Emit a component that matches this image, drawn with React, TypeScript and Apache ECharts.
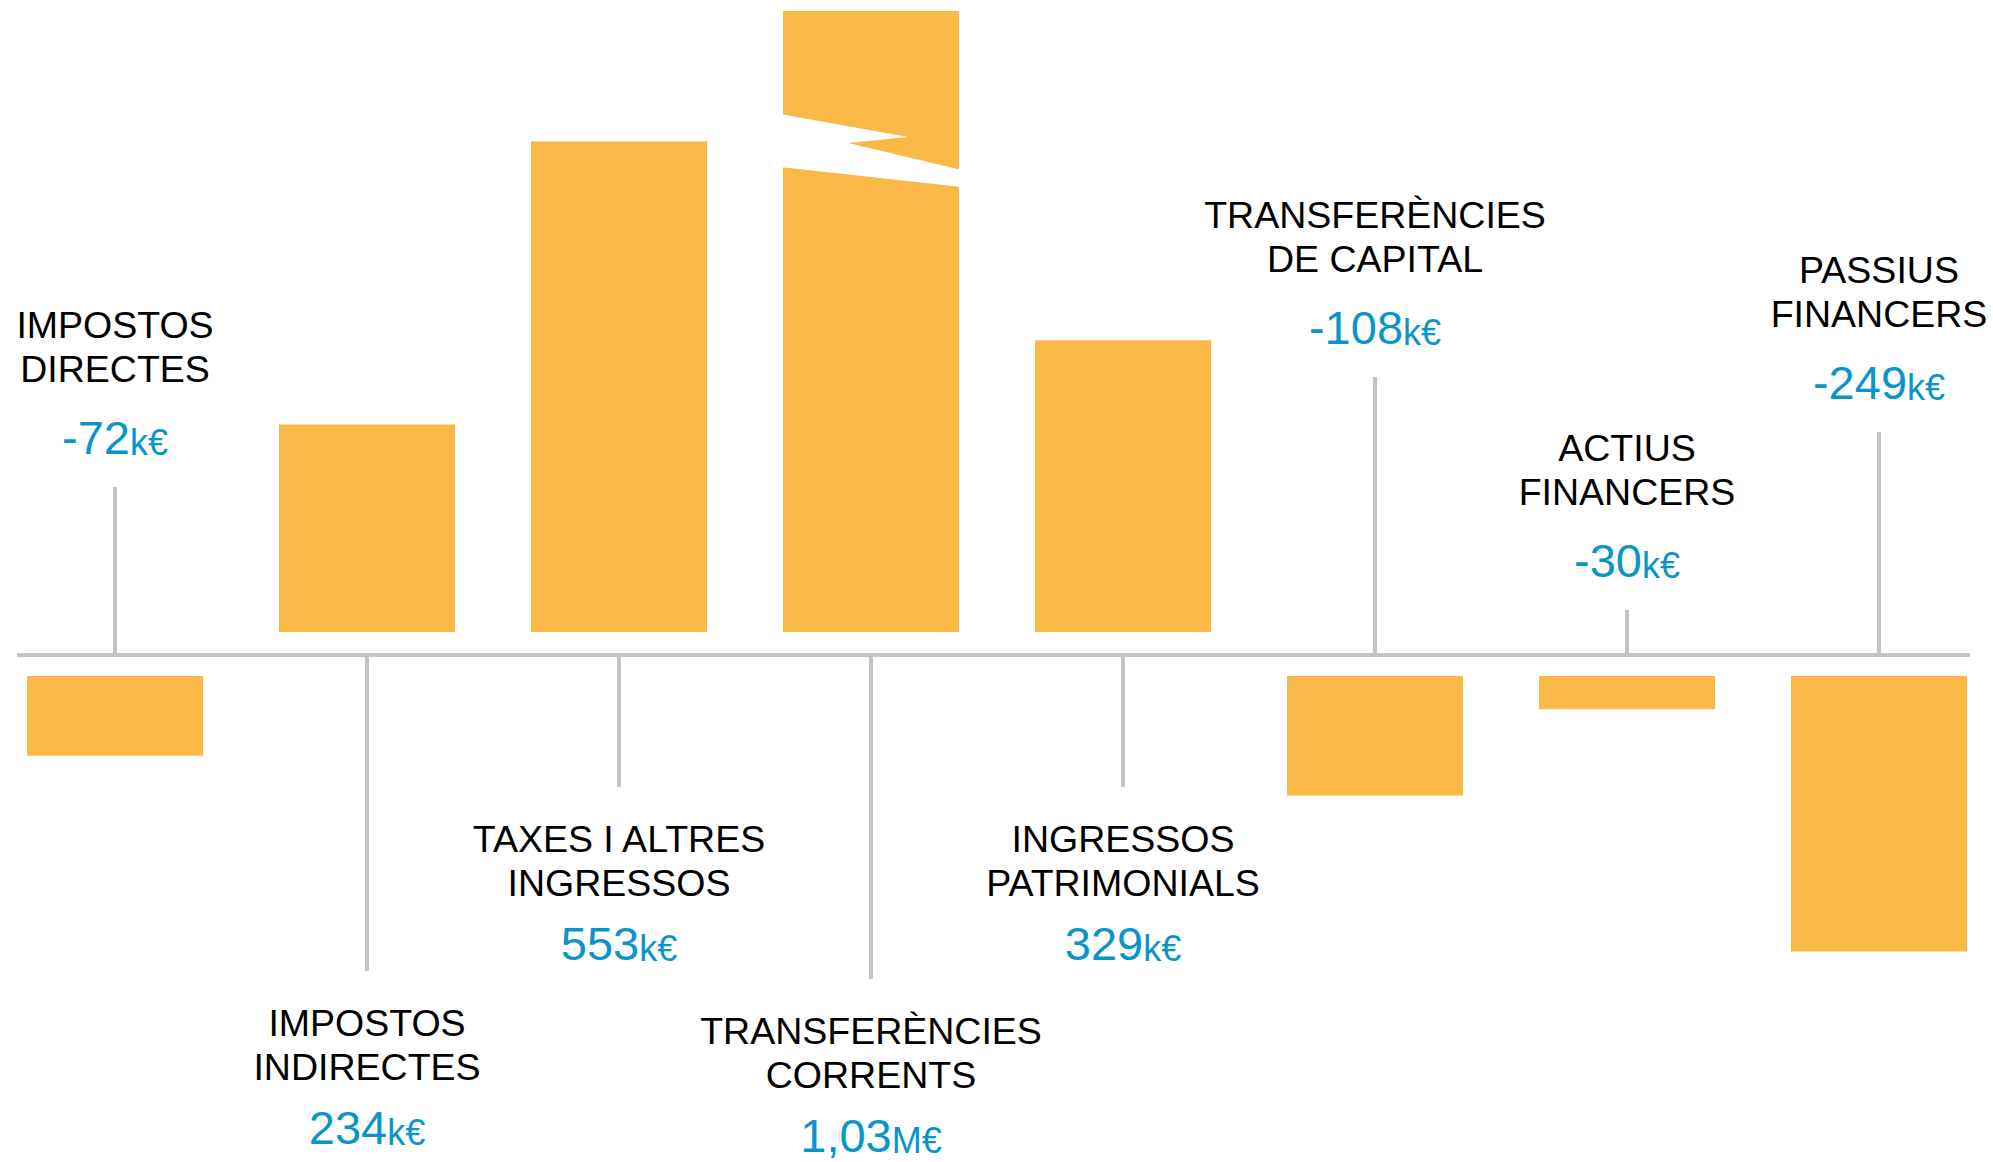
import React, { useEffect, useRef } from "react";
import * as echarts from "echarts";

// ---- data (k€) ----
const categories = [
  "IMPOSTOS\nDIRECTES",
  "IMPOSTOS\nINDIRECTES",
  "TAXES I ALTRES\nINGRESSOS",
  "TRANSFERÈNCIES\nCORRENTS",
  "INGRESSOS\nPATRIMONIALS",
  "TRANSFERÈNCIES\nDE CAPITAL",
  "ACTIUS\nFINANCERS",
  "PASSIUS\nFINANCERS",
];
const values = [-72, 234, 553, 1030, 329, -108, -30, -249];

// ---- layout (not data) ----
const leaderLengths = [168, 316, 132, 324, 132, 278, 45, 223];
const positiveMax = 700;
const negativeMin = -250;

const BAR = "#fab946";
const GREY = "#c4c4c4";
const BLUE = "#0a95c9";
const FONT = "'Liberation Sans', Arial, sans-serif";

function formatValue(v: number) {
  if (Math.abs(v) >= 1000) {
    return { num: (v / 1000).toFixed(2).replace(".", ","), unit: "M€" };
  }
  return { num: String(v), unit: "k€" };
}

export default function App() {
  const ref = useRef<HTMLDivElement>(null);

  useEffect(() => {
    if (!ref.current) return;
    const chart = echarts.init(ref.current, null, { renderer: "svg" });

    const posData = values.map((v) => (v > 0 ? v : null));
    const negData = values.map((v) => (v < 0 ? v : null));
    const labelData = values.map((v, i) => [i, v]);

    const renderItem = (params: any, api: any) => {
      const idx = api.value(0);
      const v = api.value(1);
      const cs = params.coordSys;
      const cx = api.coord([idx, 0])[0];
      const baseline = cs.y + cs.height + 23;
      const L = leaderLengths[idx];
      const down = v > 0;
      const end = down ? baseline + L : baseline - L;
      const f = formatValue(v);
      const children: any[] = [];
      children.push({
        type: "line",
        shape: { x1: cx, y1: baseline, x2: cx, y2: end },
        style: { stroke: GREY, lineWidth: 4 },
      });
      const nameStyle = {
        text: categories[idx],
        fill: "#000",
        fontSize: 37.5,
        fontFamily: FONT,
        align: "center",
        lineHeight: 44,
      };
      const valueStyle = {
        text: `{n|${f.num}}{u|${f.unit}}`,
        align: "center",
        verticalAlign: "middle",
        rich: {
          n: { fontSize: 47, lineHeight: 46, fontFamily: FONT, fill: BLUE, color: BLUE, verticalAlign: "bottom" },
          u: {
            fontSize: 36,
            lineHeight: 36,
            fontFamily: FONT,
            fill: BLUE,
            color: BLUE,
            verticalAlign: "bottom",
            padding: [0, 0, 1, 0],
          },
        },
      };
      if (down) {
        children.push({ type: "text", x: cx, y: end + 30, style: { ...nameStyle, verticalAlign: "top" } });
        children.push({ type: "text", x: cx, y: end + 157, style: valueStyle });
      } else {
        children.push({ type: "text", x: cx, y: end - 96, style: { ...nameStyle, verticalAlign: "bottom" } });
        children.push({ type: "text", x: cx, y: end - 49, style: valueStyle });
      }
      if (v > positiveMax) {
        const T = cs.y;
        const xl = cx - 88;
        children.push({
          type: "polygon",
          shape: {
            points: [
              [xl - 3, T + 103],
              [xl + 125, T + 126],
              [xl + 65, T + 132],
              [xl + 179, T + 159],
              [xl + 179, T + 176],
              [xl - 3, T + 156],
            ],
          },
          style: { fill: "#ffffff" },
        });
      }
      return { type: "group", children };
    };

    chart.setOption({
      animation: false,
      backgroundColor: "#ffffff",
      grid: [
        { left: -11, width: 2016, top: 11, height: 621, outerBoundsMode: "none", containLabel: false },
        { left: -11, width: 2016, top: 676, height: 276.5, outerBoundsMode: "none", containLabel: false },
      ],
      xAxis: [
        { type: "category", gridIndex: 0, data: categories, show: false },
        { type: "category", gridIndex: 1, data: categories, show: false },
      ],
      yAxis: [
        { type: "value", gridIndex: 0, min: 0, max: positiveMax, show: false, splitLine: { show: false } },
        { type: "value", gridIndex: 1, min: negativeMin, max: 0, show: false, splitLine: { show: false } },
      ],
      graphic: [
        {
          type: "line",
          shape: { x1: 17, y1: 655, x2: 1970, y2: 655 },
          style: { stroke: GREY, lineWidth: 4 },
          z: 1,
        },
      ],
      series: [
        {
          type: "bar",
          xAxisIndex: 0,
          yAxisIndex: 0,
          data: posData,
          barWidth: 176,
          itemStyle: { color: BAR },
          clip: true,
          silent: true,
        },
        {
          type: "bar",
          xAxisIndex: 1,
          yAxisIndex: 1,
          data: negData,
          barWidth: 176,
          itemStyle: { color: BAR },
          clip: true,
          silent: true,
        },
        {
          type: "custom",
          xAxisIndex: 0,
          yAxisIndex: 0,
          data: labelData,
          renderItem,
          clip: false,
          silent: true,
          z: 5,
        },
      ],
    });

    return () => chart.dispose();
  }, []);

  return (
    <div
      ref={ref}
      style={{ position: "fixed", left: 0, top: 0, width: 1993, height: 1162, background: "#fff" }}
    />
  );
}
